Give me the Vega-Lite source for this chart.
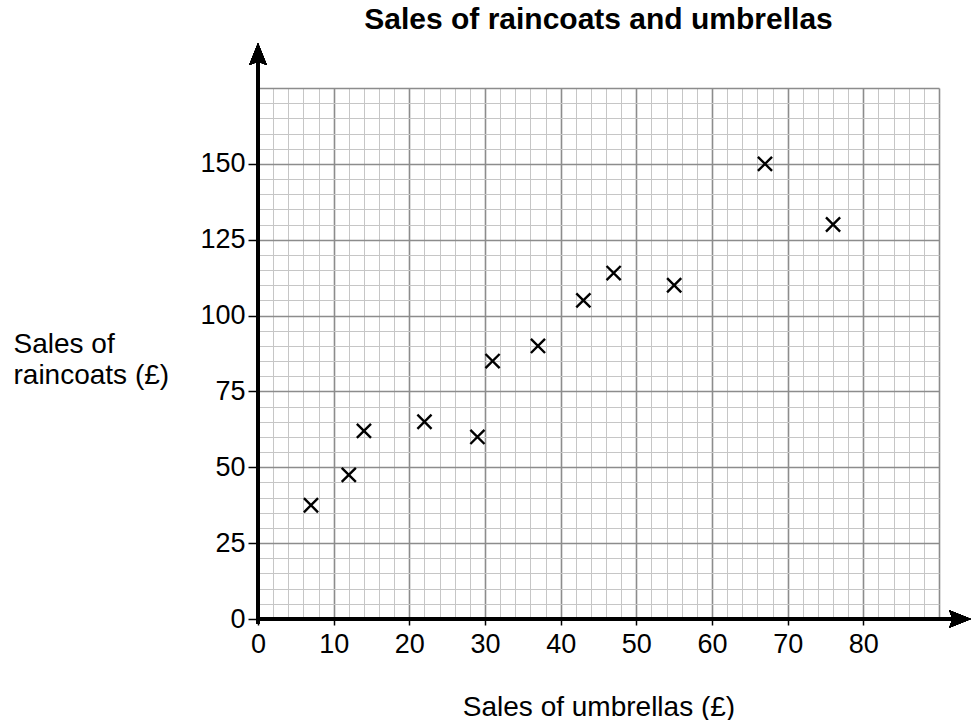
{
  "$schema": "https://vega.github.io/schema/vega-lite/v6.json",
  "width": 681,
  "height": 531,
  "autosize": {"type": "none"},
  "padding": {"left": 258, "top": 88, "right": 32, "bottom": 101},
  "background": "white",
  "config": {"font": "Liberation Sans", "view": {"stroke": null}},
  "title": {
    "text": "Sales of raincoats and umbrellas",
    "fontSize": 30,
    "fontWeight": "bold",
    "font": "Liberation Sans",
    "color": "black",
    "anchor": "middle",
    "baseline": "alphabetic",
    "offset": -16
  },
  "data": {
    "values": [
      {"umbrellas": 7, "raincoats": 37.5},
      {"umbrellas": 12, "raincoats": 47.5},
      {"umbrellas": 14, "raincoats": 62},
      {"umbrellas": 22, "raincoats": 65},
      {"umbrellas": 29, "raincoats": 60},
      {"umbrellas": 31, "raincoats": 85},
      {"umbrellas": 37, "raincoats": 90},
      {"umbrellas": 43, "raincoats": 105},
      {"umbrellas": 47, "raincoats": 114},
      {"umbrellas": 55, "raincoats": 110},
      {"umbrellas": 67, "raincoats": 150},
      {"umbrellas": 76, "raincoats": 130}
    ]
  },
  "layer": [
    {
      "mark": {"type": "point", "shape": "M-1,-1L1,1M-1,1L1,-1", "filled": false, "stroke": "black", "strokeWidth": 2.4, "size": 200, "opacity": 1},
      "encoding": {
        "x": {
          "field": "umbrellas",
          "type": "quantitative",
          "scale": {"domain": [0, 90], "nice": false, "zero": true},
          "axis": {
            "title": "Sales of umbrellas (£)",
            "values": [0,2,4,6,8,10,12,14,16,18,20,22,24,26,28,30,32,34,36,38,40,42,44,46,48,50,52,54,56,58,60,62,64,66,68,70,72,74,76,78,80,82,84,86,88,90],
            "tickCount": 200,
            "format": "d",
            "grid": true,
            "gridColor": {"condition": {"test": "datum.value % 10 === 0", "value": "#8c8c8c"}, "value": "#c6c6c6"},
            "gridWidth": {"condition": {"test": "datum.value % 10 === 0", "value": 1.6}, "value": 1},
            "domain": false,
            "ticks": true,
            "tickColor": "black",
            "tickSize": 6,
            "tickWidth": 1.5,
            "tickOpacity": {"condition": {"test": "datum.value % 10 === 0 && datum.value <= 80", "value": 1}, "value": 0},
            "labelExpr": "datum.value % 10 === 0 && datum.value <= 80 ? datum.label : ''",
            "labelFontSize": 27,
            "labelColor": "black",
            "labelFont": "Liberation Sans",
            "labelPadding": 6,
            "labelOverlap": false,
            "labelBound": false,
            "labelFlush": false,
            "titleFontSize": 28,
            "titleFontWeight": "normal",
            "titleFont": "Liberation Sans",
            "titleColor": "black",
            "titleBaseline": "alphabetic",
            "titleY": 96
          }
        },
        "y": {
          "field": "raincoats",
          "type": "quantitative",
          "scale": {"domain": [0, 175], "nice": false, "zero": true},
          "axis": {
            "title": ["Sales of", "raincoats (£)"],
            "values": [0,5,10,15,20,25,30,35,40,45,50,55,60,65,70,75,80,85,90,95,100,105,110,115,120,125,130,135,140,145,150,155,160,165,170,175],
            "tickCount": 200,
            "format": "d",
            "grid": true,
            "gridColor": {"condition": {"test": "datum.value % 25 === 0", "value": "#8c8c8c"}, "value": "#c6c6c6"},
            "gridWidth": {"condition": {"test": "datum.value % 25 === 0", "value": 1.6}, "value": 1},
            "domain": false,
            "ticks": true,
            "tickColor": "black",
            "tickSize": 10,
            "tickWidth": 1.5,
            "tickOpacity": {"condition": {"test": "datum.value % 25 === 0 && datum.value <= 150", "value": 1}, "value": 0},
            "labelExpr": "datum.value % 25 === 0 && datum.value <= 150 ? datum.label : ''",
            "labelFontSize": 27,
            "labelColor": "black",
            "labelFont": "Liberation Sans",
            "labelPadding": 3,
            "labelOverlap": false,
            "labelBound": false,
            "labelFlush": false,
            "titleFontSize": 28,
            "titleFontWeight": "normal",
            "titleFont": "Liberation Sans",
            "titleColor": "black",
            "titleAngle": 0,
            "titleAlign": "left",
            "titleBaseline": "alphabetic",
            "titleX": -245,
            "titleY": 264,
            "titleLineHeight": 31.5
          }
        }
      }
    },
    {
      "mark": {"type": "rule", "color": "black", "strokeWidth": 3},
      "encoding": {"x": {"datum": 0}, "y": {"datum": -1.5}, "y2": {"datum": 184}}
    },
    {
      "mark": {"type": "rule", "color": "black", "strokeWidth": 3},
      "encoding": {"y": {"datum": 0}, "x": {"datum": 0}, "x2": {"datum": 92}}
    },
    {
      "mark": {"type": "point", "shape": "M0,-1L0.8,1L0,0.7L-0.8,1Z", "filled": true, "color": "black", "size": 484, "opacity": 1},
      "encoding": {"x": {"datum": 0}, "y": {"datum": 186.2}}
    },
    {
      "mark": {"type": "point", "shape": "M1,0L-1,-0.8L-0.7,0L-1,0.8Z", "filled": true, "color": "black", "size": 484, "opacity": 1},
      "encoding": {"x": {"datum": 92.8}, "y": {"datum": 0}}
    }
  ]
}
